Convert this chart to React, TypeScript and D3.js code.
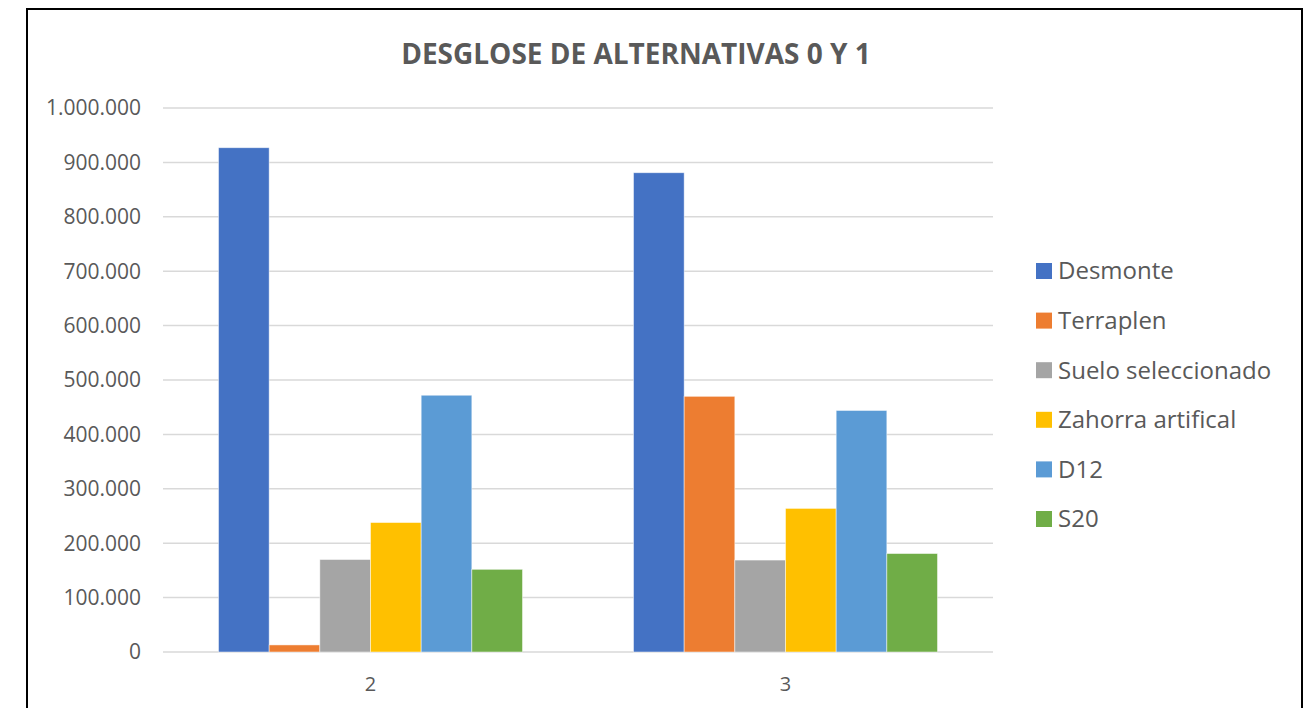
import React, { useRef, useEffect } from 'react';
import * as d3 from 'd3';

const categories = ['2', '3'];
const seriesNames = ['Desmonte', 'Terraplen', 'Suelo seleccionado', 'Zahorra artifical', 'D12', 'S20'];
const seriesColors = ['#4472C4', '#ED7D31', '#A5A5A5', '#FFC000', '#5B9BD5', '#70AD47'];
// values per category, in series order
const valuesCat2 = [927000, 13000, 170000, 238000, 472000, 152000];
const valuesCat3 = [881000, 470000, 169000, 264000, 444000, 181000];
const yTicks = [0, 100000, 200000, 300000, 400000, 500000, 600000, 700000, 800000, 900000, 1000000];

const W = 1314;
const H = 708;
const FONT = "'Open Sans', 'Noto Sans', sans-serif";
const TEXT = '#595959';

const App: React.FC = () => {
  const svgRef = useRef<SVGSVGElement | null>(null);

  useEffect(() => {
    if (!svgRef.current) return;
    const svg = d3.select(svgRef.current);
    svg.selectAll('*').remove();

    const plot = { left: 163, right: 993, top: 108, bottom: 652 };
    const rows = [valuesCat2, valuesCat3];

    // chart border
    svg.append('rect')
      .attr('x', 27).attr('y', 9)
      .attr('width', 1275).attr('height', 720)
      .attr('fill', '#fff')
      .attr('stroke', '#000')
      .attr('stroke-width', 2);

    // title
    svg.append('text')
      .attr('x', 636).attr('y', 64)
      .attr('text-anchor', 'middle')
      .attr('font-family', FONT)
      .attr('font-size', 28)
      .attr('font-weight', 700)
      .attr('fill', TEXT)
      .text('DESGLOSE DE ALTERNATIVAS 0 Y 1');

    const y = d3.scaleLinear().domain([0, 1000000]).range([plot.bottom, plot.top]);
    const x0 = d3.scaleBand<string>().domain(categories).range([plot.left, plot.right]);
    const x1 = d3.scaleBand<string>()
      .domain(seriesNames)
      .range([0, x0.bandwidth()])
      .paddingOuter(1.095);

    const fmt = (v: number) => d3.format(',')(v).replace(/,/g, '.');

    // gridlines
    svg.append('g')
      .selectAll('line')
      .data(yTicks)
      .join('line')
      .attr('x1', plot.left).attr('x2', plot.right)
      .attr('y1', d => y(d)).attr('y2', d => y(d))
      .attr('stroke', '#d9d9d9')
      .attr('stroke-width', 1.5);

    // y labels
    svg.append('g')
      .selectAll('text')
      .data(yTicks)
      .join('text')
      .attr('x', 141)
      .attr('y', d => y(d))
      .attr('dy', '0.35em')
      .attr('text-anchor', 'end')
      .attr('font-family', FONT)
      .attr('font-size', 21)
      .attr('fill', TEXT)
      .text(d => fmt(d));

    // bars
    const groups = svg.append('g')
      .selectAll('g')
      .data(categories)
      .join('g')
      .attr('transform', d => `translate(${x0(d)},0)`);

    groups.selectAll('rect')
      .data((_, i) => rows[i].map((v, j) => ({ name: seriesNames[j], v, color: seriesColors[j] })))
      .join('rect')
      .attr('x', d => x1(d.name)!)
      .attr('width', x1.bandwidth())
      .attr('y', d => y(d.v))
      .attr('height', d => plot.bottom - y(d.v))
      .attr('fill', d => d.color)
      .attr('stroke', '#fff')
      .attr('stroke-opacity', 0.6)
      .attr('stroke-width', 0.8);

    // x labels
    svg.append('g')
      .selectAll('text')
      .data(categories)
      .join('text')
      .attr('x', d => x0(d)! + x0.bandwidth() / 2)
      .attr('y', 684)
      .attr('dy', '0.35em')
      .attr('text-anchor', 'middle')
      .attr('font-family', FONT)
      .attr('font-size', 20)
      .attr('fill', TEXT)
      .text(d => d);

    // legend
    const legend = svg.append('g')
      .selectAll('g')
      .data(seriesNames)
      .join('g')
      .attr('transform', (_, i) => `translate(1036,${271 + i * 49.6})`);

    legend.append('rect')
      .attr('x', 0).attr('y', -8)
      .attr('width', 16).attr('height', 16)
      .attr('fill', (_, i) => seriesColors[i]);

    legend.append('text')
      .attr('x', 22)
      .attr('y', 0)
      .attr('dy', '0.35em')
      .attr('font-family', FONT)
      .attr('font-size', 24)
      .attr('fill', TEXT)
      .text(d => d);
  }, []);

  return (
    <svg
      ref={svgRef}
      width={W}
      height={H}
      style={{ position: 'absolute', left: 0, top: 0, background: '#fff' }}
    />
  );
};

export default App;
